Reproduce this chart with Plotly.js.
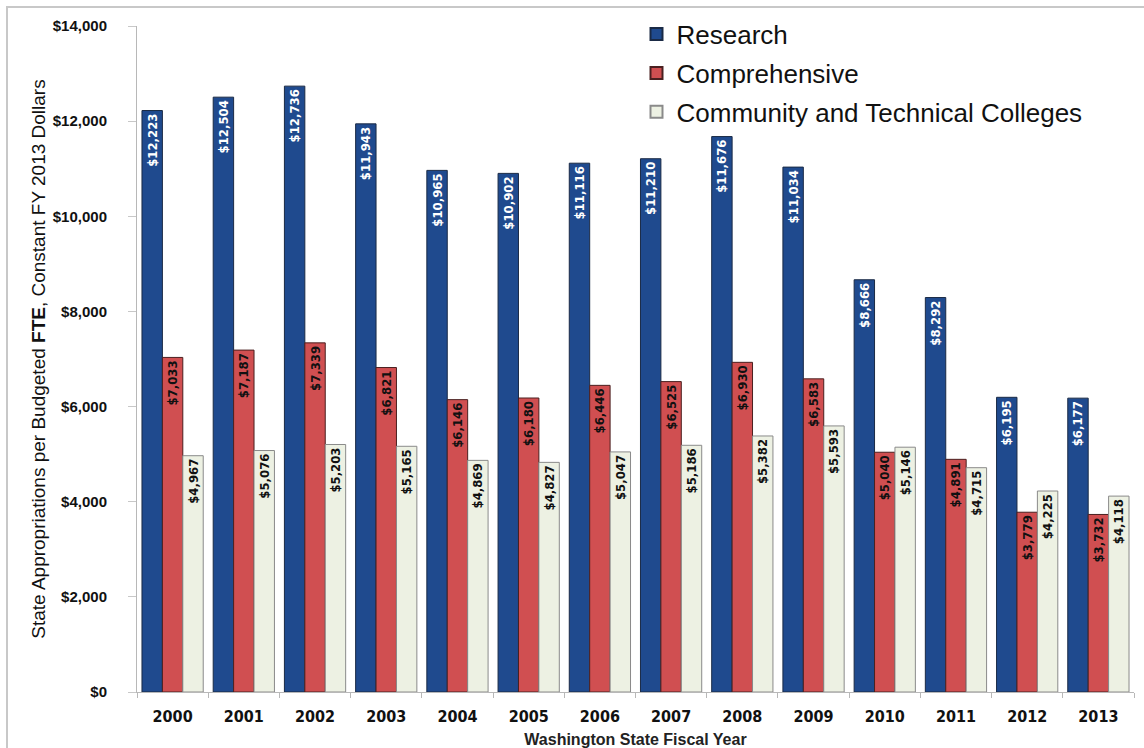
<!DOCTYPE html>
<html>
<head>
<meta charset="utf-8">
<script src="https://cdn.plot.ly/plotly-3.0.1.min.js"></script>
<style>
  html, body { margin: 0; padding: 0; background: #ffffff; }
  #chart { width: 1144px; height: 748px; }
</style>
</head>
<body>
<div id="chart"></div>
<script>
// ---- data ----
const years = ['2000','2001','2002','2003','2004','2005','2006','2007','2008','2009','2010','2011','2012','2013'];
const research = [12223, 12504, 12736, 11943, 10965, 10902, 11116, 11210, 11676, 11034, 8666, 8292, 6195, 6177];
const comprehensive = [7033, 7187, 7339, 6821, 6146, 6180, 6446, 6525, 6930, 6583, 5040, 4891, 3779, 3732];
const ctc = [4967, 5076, 5203, 5165, 4869, 4827, 5047, 5186, 5382, 5593, 5146, 4715, 4225, 4118];
const seriesNames = ['Research', 'Comprehensive', 'Community and Technical Colleges'];
const yTickVals = [0, 2000, 4000, 6000, 8000, 10000, 12000, 14000];
const yTickText = ['$0', '$2,000', '$4,000', '$6,000', '$8,000', '$10,000', '$12,000', '$14,000'];

const condFont = "'DejaVu Sans Condensed', 'Liberation Sans Narrow', Arial, sans-serif";
const arialFont = "'Liberation Sans', Arial, sans-serif";

function barTrace(name, vals, fill, edge, txtColor, group) {
  return {
    type: 'bar',
    name: name,
    x: years,
    y: vals,
    legendgroup: group,
    marker: { color: fill, line: { color: edge, width: 1 } },
    texttemplate: '<b>$%{y:,.0f}</b>',
    textposition: 'inside',
    insidetextanchor: 'end',
    textangle: -90,
    constraintext: 'none',
    textfont: { family: condFont, size: 13, color: txtColor },
    hoverinfo: 'x+y+name'
  };
}

const data = [
  barTrace(seriesNames[0], research, '#1f4a8e', '#1a2a45', '#ffffff', 'g1'),
  barTrace(seriesNames[1], comprehensive, '#d04f51', '#4a2020', '#111111', 'g2'),
  barTrace(seriesNames[2], ctc, '#edf1e3', '#8a8a8a', '#111111', 'g3')
];

const layout = {
  width: 1144,
  height: 748,
  margin: { l: 137, r: 10, t: 26, b: 56 },
  paper_bgcolor: '#ffffff',
  plot_bgcolor: '#ffffff',
  barmode: 'group',
  bargap: 0.14,
  bargroupgap: 0,
  showlegend: true,
  legend: {
    x: 0.501, xanchor: 'left',
    y: 1.023, yanchor: 'top',
    font: { family: arialFont, size: 26, color: '#111111' },
    bgcolor: 'rgba(0,0,0,0)',
    tracegroupgap: 2,
    itemsizing: 'constant'
  },
  xaxis: {
    type: 'category',
    showgrid: false,
    showline: true,
    linecolor: '#b8b8b8',
    linewidth: 1,
    ticks: 'outside',
    tickson: 'boundaries',
    ticklen: 5,
    tickcolor: '#b8b8b8',
    tickfont: { family: condFont, size: 16, color: '#111111', weight: 'bold' },
    ticklabelstandoff: 10,
    title: {
      text: '<b>Washington State Fiscal Year</b>',
      font: { family: arialFont, size: 16, color: '#222222' },
      standoff: 8
    }
  },
  yaxis: {
    range: [0, 14000],
    tickvals: yTickVals,
    ticktext: yTickText,
    showgrid: false,
    zeroline: false,
    showline: true,
    linecolor: '#b8b8b8',
    linewidth: 1,
    ticks: 'outside',
    ticklen: 8,
    tickcolor: '#c8c8c8',
    ticklabelstandoff: 18,
    tickfont: { family: arialFont, size: 15, color: '#111111', weight: 'bold' },
    title: {
      text: 'State Appropriations per Budgeted <b>FTE</b>, Constant FY 2013 Dollars',
      font: { family: arialFont, size: 19, color: '#111111' },
      standoff: 2
    }
  },
  shapes: [
    {
      type: 'rect', xref: 'paper', yref: 'paper',
      x0: -0.1304, x1: 1.03, y0: -0.2, y1: 1.0285,
      line: { color: '#c8c8c8', width: 2 },
      fillcolor: 'rgba(0,0,0,0)',
      layer: 'below'
    }
  ]
};

Plotly.newPlot('chart', data, layout, { displayModeBar: false, staticPlot: true });
</script>
</body>
</html>
